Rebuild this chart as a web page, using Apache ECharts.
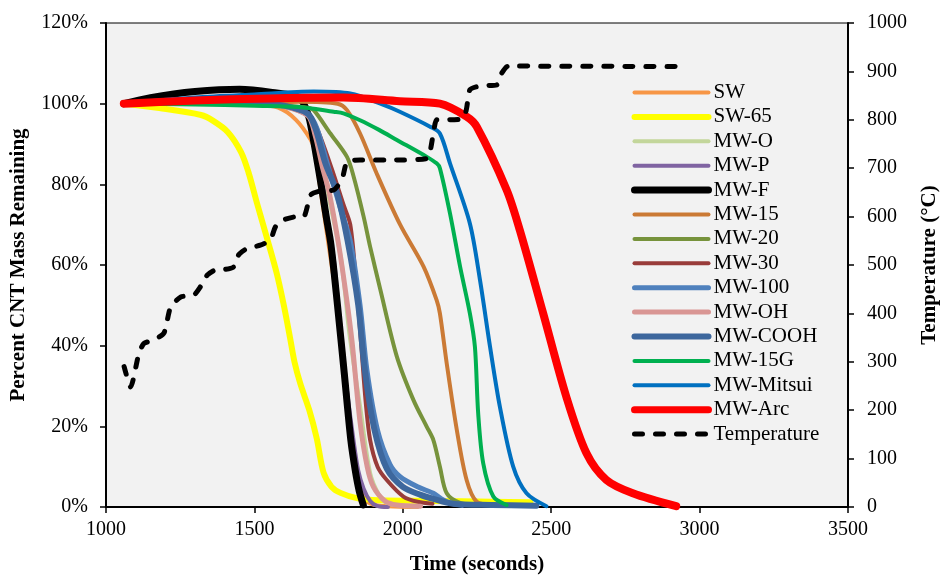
<!DOCTYPE html>
<html>
<head>
<meta charset="utf-8">
<script src="https://cdn.jsdelivr.net/npm/echarts@6/dist/echarts.min.js"></script>
<style>
  html, body { margin: 0; padding: 0; background: #fff; }
  #chart { width: 942px; height: 575px; }
</style>
</head>
<body>
<div id="chart"></div>
<script>
// [time (s), % mass remaining]
const swData = [[1060,100],[1300,100.2],[1500,99.8],[1580,99],[1640,96],[1690,91],[1705,88],[1720,80],[1740,70],[1760,60],[1785,48],[1810,30],[1830,15],[1850,6],[1870,2],[1900,0.6],[1950,0.2],[2050,0]];
const sw65Data = [[1060,100],[1180,98.9],[1320,97.2],[1360,95.8],[1410,93],[1455,88],[1480,83],[1510,75],[1545,66],[1575,58],[1600,49.7],[1620,42],[1635,36],[1655,30.5],[1685,24],[1710,17],[1733,8.5],[1760,5],[1790,3.5],[1845,2.2],[1920,1.7],[2100,1.5],[2300,1.3],[2430,1.2]];
const mwOData = [[1060,100],[1300,100.2],[1500,100],[1600,99.2],[1680,97],[1705,92],[1740,80],[1770,70],[1795,60],[1820,43],[1856,25],[1890,8.4],[1920,3],[1946,1],[2000,0.3],[2050,0.2]];
const mwPData = [[1060,100],[1300,100.3],[1500,100],[1600,99.3],[1680,97],[1700,94],[1725,83],[1745,72],[1770,60],[1789,44],[1810,30],[1834,16.5],[1850,9],[1868,4.5],[1890,1.5],[1913,0.3],[1950,0]];
const mwFData = [[1060,100],[1150,101.5],[1300,103],[1450,103.6],[1560,102.8],[1650,101.5],[1680,97.5],[1694,93],[1720,82],[1742,72],[1758,65],[1780,50],[1803,33],[1825,16.5],[1840,9],[1853,4],[1867,0.5]];
const mw15Data = [[1060,100],[1300,100.3],[1500,100.2],[1650,100.5],[1780,100],[1812,98.4],[1856,92.6],[1912,82.7],[1991,70],[2070,59.6],[2114,51.3],[2125,48],[2148,35.6],[2182,19.1],[2215,6.7],[2249,1.3],[2300,0.5]];
const mw20Data = [[1060,100],[1300,100.2],[1500,99.8],[1600,99.5],[1680,99],[1700,98.4],[1756,92.6],[1812,86.8],[1834,82],[1868,72],[1890,64.5],[1924,54],[1980,37.3],[2036,26.5],[2080,20],[2103,16.6],[2125,10],[2148,3.4],[2193,1],[2250,0.5]];
const mw30Data = [[1060,100],[1300,100.3],[1500,100],[1600,99.3],[1680,97.5],[1710,94],[1760,84],[1800,75],[1823,70],[1840,58],[1860,40],[1875,26],[1890,16.6],[1915,10],[1946,6.7],[2002,2.6],[2050,1.3],[2100,0.8]];
const mw100Data = [[1060,100],[1300,100.4],[1500,100.2],[1600,99.4],[1680,97.5],[1710,94],[1750,84],[1790,74],[1823,66],[1856,50],[1879,34],[1915,19],[1957,10.5],[1991,7.5],[2050,5],[2103,3.4],[2130,2],[2159,1],[2200,0.4]];
const mwOHData = [[1060,100],[1300,100.3],[1500,100],[1600,99.3],[1680,97],[1705,92],[1730,84],[1752,78],[1784,65],[1810,52],[1829,41],[1856,21],[1880,10],[1901,5],[1940,1.5],[1980,0.5],[2060,0.2]];
const mwCOOHData = [[1060,100],[1300,100.5],[1500,100.3],[1600,99.5],[1680,97.5],[1705,94],[1740,85],[1778,78],[1814,66],[1850,50],[1872,34],[1905,19],[1946,9.5],[2000,5],[2060,3],[2103,2],[2169,0.8],[2300,0.5],[2450,0.3]];
const mw15GData = [[1060,100],[1300,99.8],[1500,99.5],[1650,99.2],[1767,98],[1800,97.6],[1856,95.9],[1920,93.5],[1980,91],[2081,86.8],[2114,85.2],[2125,84],[2159,72.8],[2193,59.6],[2226,48],[2243,39.7],[2254,23.2],[2271,10.8],[2305,2.6],[2350,0.5]];
const mwMitsuiData = [[1060,100],[1300,101.5],[1500,102.3],[1700,103],[1823,102.5],[1935,99.7],[1990,98],[2092,94.3],[2125,92.6],[2159,85.2],[2226,70.3],[2260,56.3],[2294,39.7],[2327,24.9],[2372,10],[2417,3.4],[2484,0.2]];
const mwArcData = [[1060,100],[1300,100.8],[1550,101.3],[1800,101.5],[1990,100.6],[2125,100],[2215,96.8],[2249,94.3],[2350,78.6],[2394,68.7],[2473,48],[2551,27.3],[2619,13.3],[2686,6.7],[2775,3.4],[2921,0.2]];
// [time (s), temperature (°C)]
const tempData = [[1061,290],[1083,248],[1111,318],[1128,338],[1161,345],[1195,359],[1218,414],[1252,434],[1296,438],[1318,455],[1341,479],[1369,490],[1403,491],[1430,496],[1447,521],[1475,534],[1520,541],[1554,552],[1571,579],[1598,593],[1644,600],[1666,600],[1690,645],[1722,653],[1767,655],[1795,676],[1812,713],[1856,717],[1968,717],[2081,720],[2103,772],[2114,800],[2148,800],[2204,803],[2215,824],[2226,862],[2260,870],[2316,872],[2333,896],[2355,911],[2926,910]];

const seriesDefs = [
  { name: "SW", data: swData, color: "#F79646", width: 4 },
  { name: "SW-65", data: sw65Data, color: "#FFFF00", width: 6 },
  { name: "MW-O", data: mwOData, color: "#C3D69B", width: 4 },
  { name: "MW-P", data: mwPData, color: "#8064A2", width: 4 },
  { name: "MW-F", data: mwFData, color: "#000000", width: 7 },
  { name: "MW-15", data: mw15Data, color: "#CB7A35", width: 4 },
  { name: "MW-20", data: mw20Data, color: "#77933C", width: 4 },
  { name: "MW-30", data: mw30Data, color: "#993C3A", width: 4 },
  { name: "MW-100", data: mw100Data, color: "#4F81BD", width: 5 },
  { name: "MW-OH", data: mwOHData, color: "#D99694", width: 5 },
  { name: "MW-COOH", data: mwCOOHData, color: "#3D679D", width: 6 },
  { name: "MW-15G", data: mw15GData, color: "#00B050", width: 4 },
  { name: "MW-Mitsui", data: mwMitsuiData, color: "#0070C0", width: 4 },
  { name: "MW-Arc", data: mwArcData, color: "#FF0000", width: 8 },
];

const font = "Liberation Serif";

const series = seriesDefs.map(function (s) {
  return {
    name: s.name,
    type: "line",
    data: s.data,
    symbol: "none",
    smooth: 0.3,
    color: s.color,
    lineStyle: { color: s.color, width: s.width, cap: "round", join: "round" },
  };
});

series.push({
  name: "Temperature",
  type: "line",
  yAxisIndex: 1,
  data: tempData,
  symbol: "none",
  smooth: 0.2,
  color: "#000",
  lineStyle: { color: "#000", width: 5, type: [8, 13], cap: "round", join: "round" },
});

// legend icons: plain line of the series' own width, no symbol
const legendData = seriesDefs.map(function (s) {
  return { name: s.name, lineStyle: { width: Math.min(s.width, 7), cap: "round" } };
});
legendData.push({ name: "Temperature", lineStyle: { width: 5, type: [8, 13], cap: "round" } });

const noComma = function (v) { return String(v); };

const chart = echarts.init(document.getElementById("chart"));
chart.setOption({
  animation: false,
  textStyle: { fontFamily: font },
  grid: {
    left: 106, right: 94, top: 23, bottom: 68,
    outerBoundsMode: "none",
    containLabel: false,
    show: true, backgroundColor: "#f2f2f2", borderColor: "#000", borderWidth: 1,
  },
  legend: {
    orient: "vertical",
    left: 631,
    top: 82,
    padding: 0,
    itemWidth: 74,
    itemHeight: 14,
    itemGap: 3.4,
    itemStyle: { opacity: 0 },
    lineStyle: { width: "inherit" },
    data: legendData,
    textStyle: { fontFamily: font, fontSize: 21, color: "#000" },
  },
  xAxis: {
    type: "value",
    min: 1000, max: 3500, interval: 500,
    name: "Time (seconds)",
    nameLocation: "middle",
    nameGap: 47,
    nameTextStyle: { fontFamily: font, fontSize: 21, fontWeight: "bold", color: "#000" },
    axisLine: { onZero: false, lineStyle: { color: "#000", width: 2 } },
    axisTick: { inside: false, length: 6, lineStyle: { color: "#000", width: 1.5 } },
    axisLabel: { fontFamily: font, fontSize: 20, color: "#000", margin: 13, formatter: noComma },
    splitLine: { show: false },
  },
  yAxis: [
    {
      type: "value",
      min: 0, max: 120, interval: 20,
      name: "Percent CNT Mass Remaining",
      nameLocation: "middle",
      nameGap: 77,
      nameTextStyle: { fontFamily: font, fontSize: 21, fontWeight: "bold", color: "#000" },
      axisLine: { show: true, lineStyle: { color: "#000", width: 2 } },
      axisTick: { show: true, length: 6, lineStyle: { color: "#000", width: 1.5 } },
      axisLabel: { fontFamily: font, fontSize: 20, color: "#000", margin: 18, formatter: "{value}%" },
      splitLine: { show: false },
    },
    {
      type: "value",
      position: "right",
      min: 0, max: 1000, interval: 100,
      name: "Temperature (°C)",
      nameLocation: "middle",
      nameGap: 71,
      nameTextStyle: { fontFamily: font, fontSize: 21, fontWeight: "bold", color: "#000" },
      axisLine: { show: true, lineStyle: { color: "#000", width: 2 } },
      axisTick: { show: true, length: 6, lineStyle: { color: "#000", width: 1.5 } },
      axisLabel: { fontFamily: font, fontSize: 20, color: "#000", margin: 19, formatter: noComma },
      splitLine: { show: false },
    },
  ],
  series: series,
});
</script>
</body>
</html>
